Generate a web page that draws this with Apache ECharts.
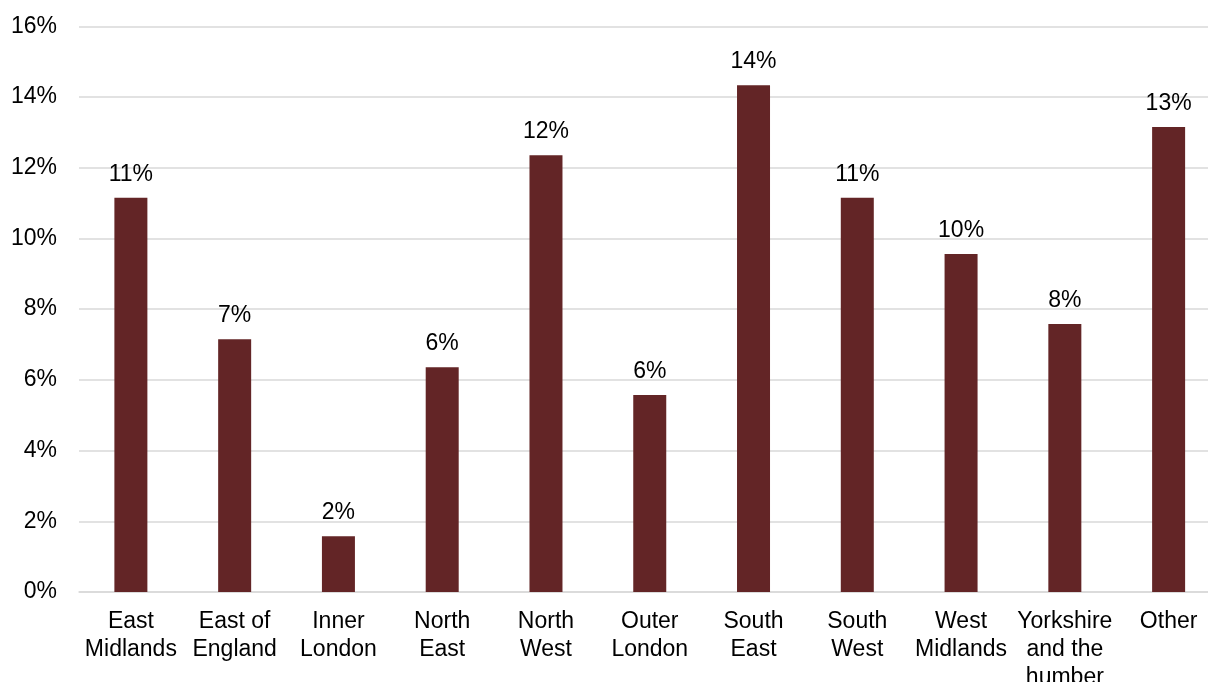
<!DOCTYPE html>
<html>
<head>
<meta charset="utf-8">
<script src="https://cdn.jsdelivr.net/npm/echarts@6/dist/echarts.min.js"></script>
<style>html,body{margin:0;padding:0;background:#fff;}#c{width:1208px;height:682px;}</style>
</head>
<body>
<div id="c"></div>
<script>
const categories = ["East\nMidlands", "East of\nEngland", "Inner\nLondon", "North\nEast", "North\nWest", "Outer\nLondon", "South\nEast", "South\nWest", "West\nMidlands", "Yorkshire\nand the\nhumber", "Other"];
const values = [11.15, 7.15, 1.58, 6.36, 12.35, 5.57, 14.33, 11.15, 9.56, 7.58, 13.15];
const yTicks = [0, 2, 4, 6, 8, 10, 12, 14, 16];

const chart = echarts.init(document.getElementById('c'), null, {renderer: 'canvas'});
const font = '"Liberation Sans", Arial, sans-serif';
chart.setOption({
  animation: false,
  backgroundColor: '#ffffff',
  grid: {left: 79, top: 26.3, width: 1141.5, height: 565.7, containLabel: false, outerBoundsMode: 'none'},
  xAxis: {
    type: 'category',
    data: categories,
    axisLine: {show: true, lineStyle: {color: '#d9d9d9', width: 1.5}},
    axisTick: {show: false},
    axisLabel: {interval: 0, color: '#000', fontFamily: font, fontSize: 23, lineHeight: 28, margin: 16}
  },
  yAxis: {
    type: 'value',
    min: yTicks[0],
    max: yTicks[yTicks.length - 1],
    interval: 2,
    axisLine: {show: false},
    axisTick: {show: false},
    splitLine: {lineStyle: {color: '#d9d9d9', width: 1.5}},
    axisLabel: {color: '#000', fontFamily: font, fontSize: 23, margin: 22, formatter: v => v + '%'}
  },
  series: [{
    type: 'bar',
    data: values,
    barWidth: 33,
    itemStyle: {color: '#632526'},
    label: {
      show: true,
      position: 'top',
      distance: 12,
      color: '#000',
      fontFamily: font,
      fontSize: 23,
      formatter: p => Math.round(p.value) + '%'
    }
  }]
});
</script>
</body>
</html>
